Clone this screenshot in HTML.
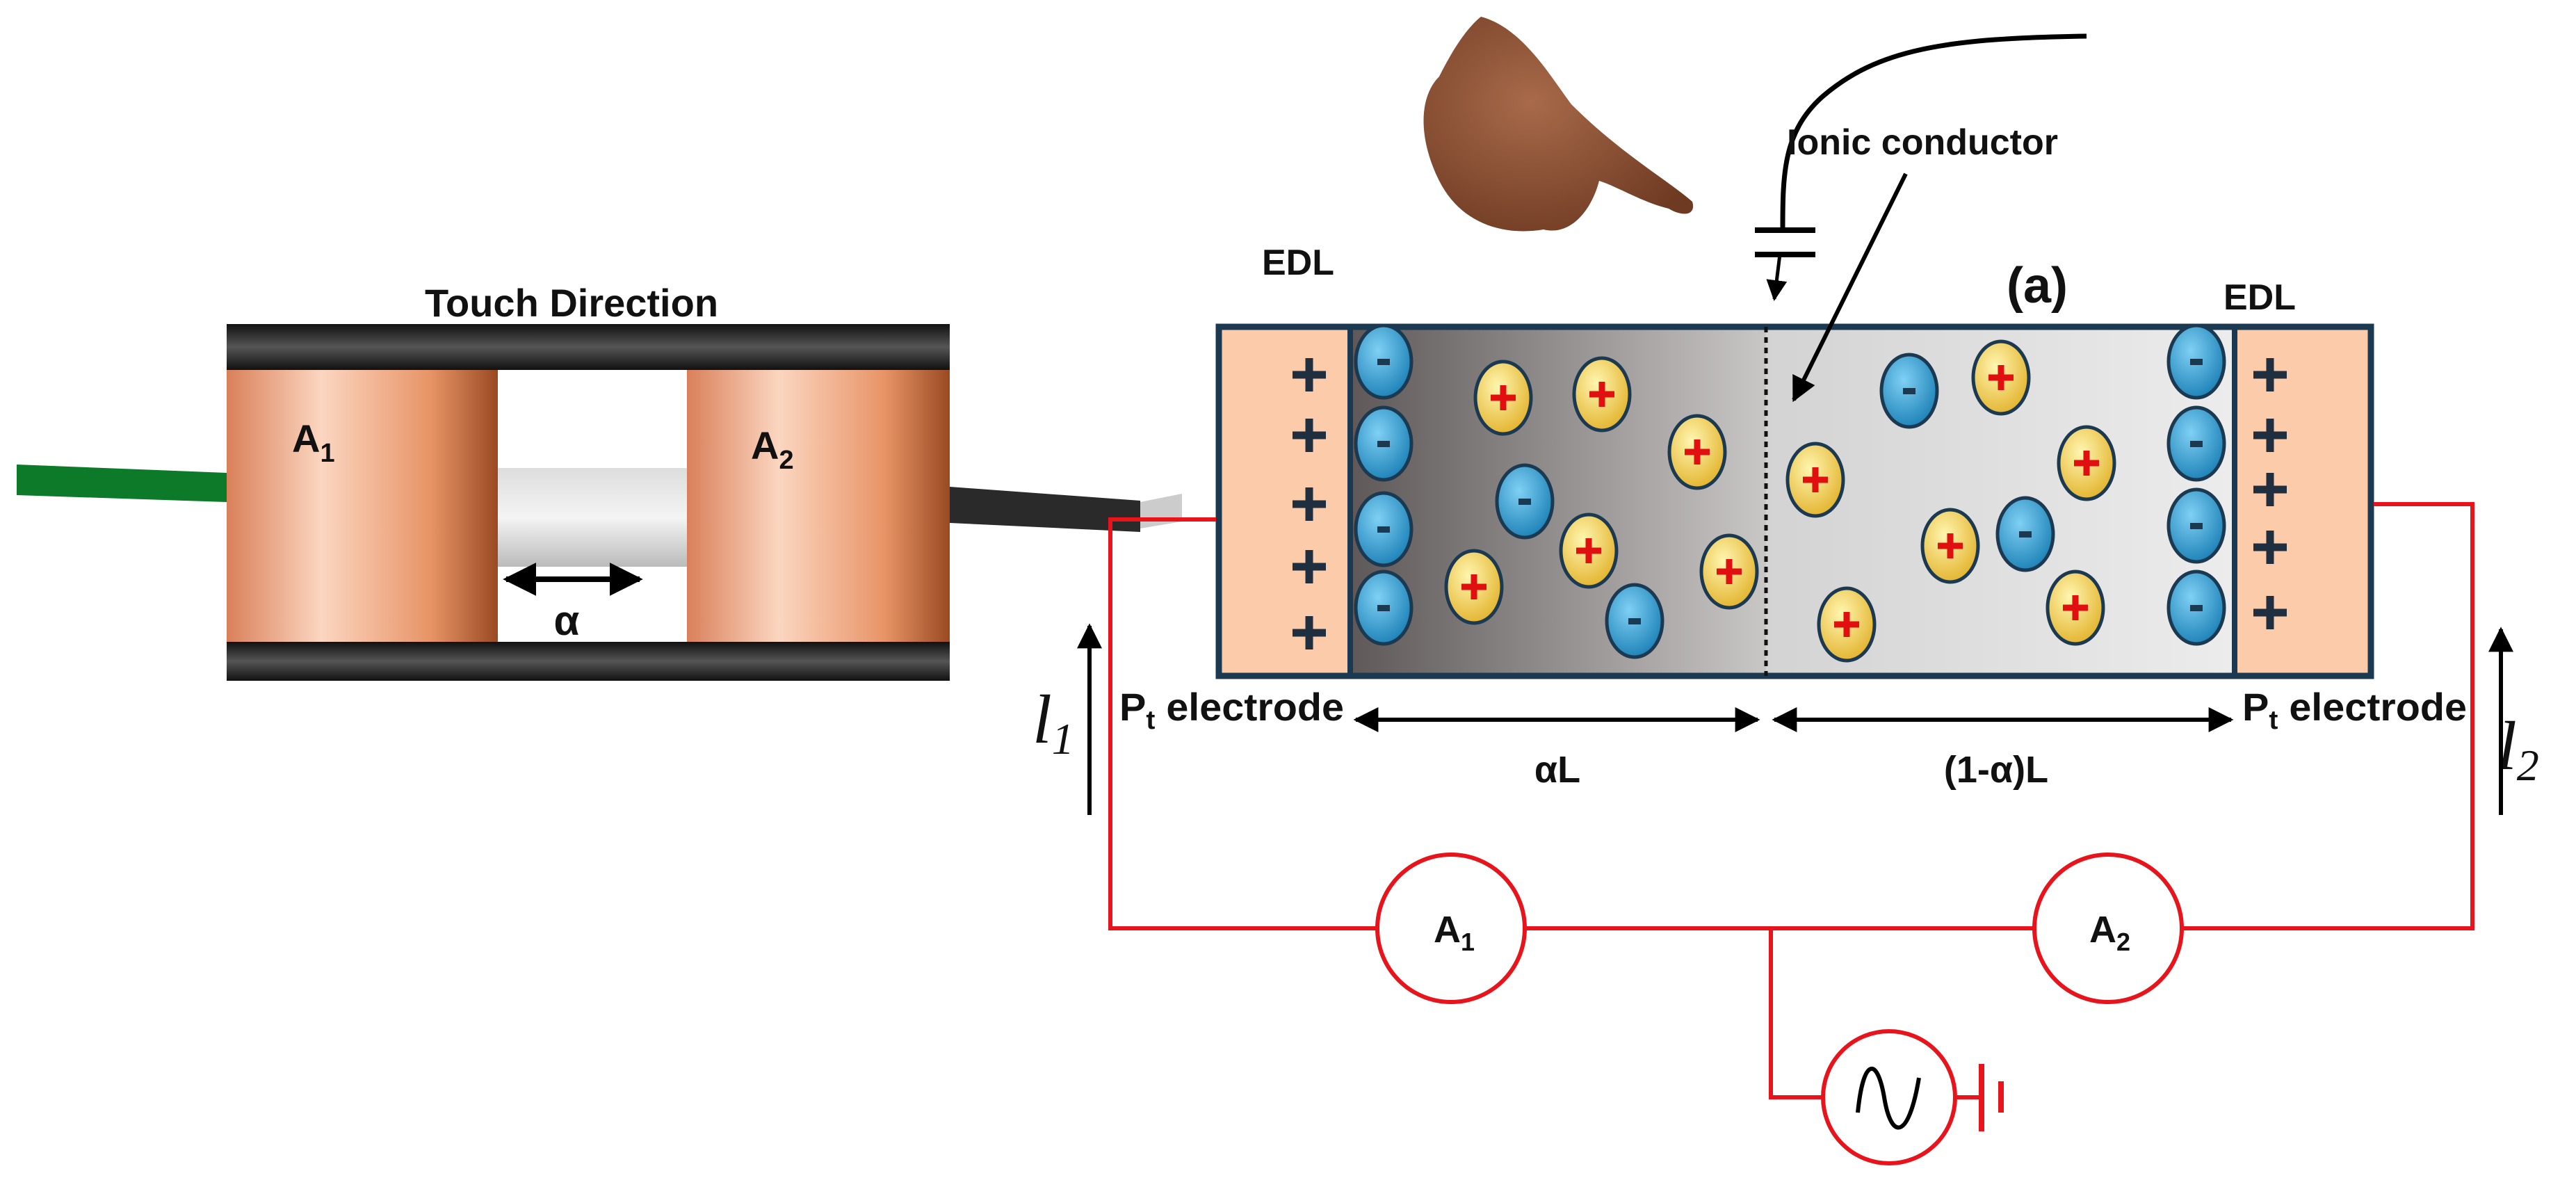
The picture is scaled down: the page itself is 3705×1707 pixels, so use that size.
<!DOCTYPE html>
<html><head><meta charset="utf-8"><style>
html,body{margin:0;padding:0;background:#fff}
svg{display:block}
text{font-family:"Liberation Sans",sans-serif;font-weight:bold;fill:#111}
</style></head><body>
<svg width="3705" height="1707" viewBox="0 0 3705 1707" xmlns="http://www.w3.org/2000/svg">
<defs>
<linearGradient id="cu" x1="0" x2="1">
<stop offset="0" stop-color="#d9805a"/><stop offset="0.35" stop-color="#fbd6c0"/><stop offset="0.75" stop-color="#e89467"/><stop offset="1" stop-color="#9a4a22"/></linearGradient>
<linearGradient id="bar" x1="0" y1="0" x2="0" y2="1">
<stop offset="0" stop-color="#111"/><stop offset="0.5" stop-color="#555"/><stop offset="1" stop-color="#111"/></linearGradient>
<linearGradient id="wire" x1="0" y1="0" x2="0" y2="1">
<stop offset="0" stop-color="#ddd"/><stop offset="0.5" stop-color="#f4f4f4"/><stop offset="1" stop-color="#bbb"/></linearGradient>
<linearGradient id="gl" x1="0" x2="1">
<stop offset="0" stop-color="#5e5858"/><stop offset="1" stop-color="#c9c6c6"/></linearGradient>
<linearGradient id="gr" x1="0" x2="1">
<stop offset="0" stop-color="#d3d3d3"/><stop offset="1" stop-color="#ececec"/></linearGradient>
<radialGradient id="pos" cx="0.4" cy="0.35" r="0.7"><stop offset="0" stop-color="#fff6b0"/><stop offset="1" stop-color="#e2b12a"/></radialGradient>
<radialGradient id="neg" cx="0.4" cy="0.35" r="0.7"><stop offset="0" stop-color="#7fd0f4"/><stop offset="1" stop-color="#1a7fb5"/></radialGradient>
<radialGradient id="skin" cx="0.4" cy="0.4" r="0.7"><stop offset="0" stop-color="#a86a4a"/><stop offset="1" stop-color="#6e3a22"/></radialGradient>
<g id="p"><ellipse rx="40" ry="52" fill="url(#pos)" stroke="#1b3a52" stroke-width="5"/><path d="M-18 0H18M0 -18V18" stroke="#e01010" stroke-width="9"/></g>
<g id="n"><ellipse rx="40" ry="52" fill="url(#neg)" stroke="#1b3a52" stroke-width="5"/><rect x="-9" y="-4" width="18" height="9" fill="#1b3a52"/></g>
<g id="pl"><path d="M-24 0H24M0 -24V24" stroke="#1f2f40" stroke-width="11"/></g>
<marker id="ah" viewBox="0 0 10 10" refX="9" refY="5" markerWidth="6" markerHeight="6" orient="auto-start-reverse"><path d="M0 0L10 5L0 10z" fill="#000"/></marker>
</defs>

<!-- left device -->
<text x="822" y="455" font-size="56" text-anchor="middle">Touch Direction</text>
<path d="M24 668 L326 680 L326 722 L24 712z" fill="#0d7a2a"/>
<rect x="716" y="673" width="272" height="142" fill="url(#wire)"/>
<rect x="326" y="466" width="1040" height="66" fill="url(#bar)"/>
<rect x="326" y="923" width="1040" height="56" fill="url(#bar)"/>
<rect x="326" y="532" width="390" height="391" fill="url(#cu)"/>
<rect x="988" y="532" width="378" height="391" fill="url(#cu)"/>
<path d="M1366 700 L1640 720 L1640 765 L1366 752z" fill="#2a2a2a"/>
<path d="M1640 722 L1700 710 L1700 750 L1640 760z" fill="#ccc"/>
<text x="420" y="650" font-size="56">A<tspan font-size="38" dy="14">1</tspan></text>
<text x="1080" y="660" font-size="56">A<tspan font-size="38" dy="14">2</tspan></text>
<line x1="728" y1="833" x2="920" y2="833" stroke="#000" stroke-width="8" marker-start="url(#ah)" marker-end="url(#ah)"/>
<text x="815" y="913" font-size="60" text-anchor="middle">α</text>

<!-- hand -->
<path d="M2130 24 C2190 40 2230 110 2260 150 C2330 220 2400 260 2434 290 C2440 310 2420 312 2400 300 C2360 290 2330 270 2300 260 C2290 300 2260 340 2220 330 C2160 340 2100 320 2070 260 C2040 200 2040 140 2070 110 C2090 70 2110 40 2130 24z" fill="url(#skin)"/>
<path d="M3001 52 C2800 55 2700 70 2620 140 C2565 190 2564 250 2564 331" fill="none" stroke="#000" stroke-width="7"/>
<line x1="2524" y1="331" x2="2611" y2="331" stroke="#000" stroke-width="8"/>
<line x1="2524" y1="366" x2="2611" y2="366" stroke="#000" stroke-width="8"/>
<line x1="2560" y1="366" x2="2552" y2="430" stroke="#000" stroke-width="5" marker-end="url(#ah)"/>
<text x="2570" y="222" font-size="52">Ionic conductor</text>
<text x="1867" y="395" font-size="52" text-anchor="middle">EDL</text>
<text x="3250" y="445" font-size="52" text-anchor="middle">EDL</text>
<text x="2930" y="435" font-size="72" text-anchor="middle">(a)</text>

<!-- main box -->
<rect x="1942" y="470" width="598" height="502" fill="url(#gl)"/>
<rect x="2540" y="470" width="674" height="502" fill="url(#gr)"/>
<rect x="1753" y="470" width="189" height="502" fill="#fccbaa"/>
<rect x="3214" y="470" width="196" height="502" fill="#fccbaa"/>
<line x1="1942" y1="470" x2="1942" y2="972" stroke="#1b3a52" stroke-width="8"/>
<line x1="3214" y1="470" x2="3214" y2="972" stroke="#1b3a52" stroke-width="8"/>
<rect x="1753" y="470" width="1657" height="502" fill="none" stroke="#1b3a52" stroke-width="9"/>
<line x1="2540" y1="470" x2="2540" y2="972" stroke="#111" stroke-width="5" stroke-dasharray="8,7"/>
<use href="#pl" x="1883" y="539"/><use href="#pl" x="1883" y="626"/><use href="#pl" x="1883" y="725"/><use href="#pl" x="1883" y="815"/><use href="#pl" x="1883" y="910"/>
<use href="#pl" x="3265" y="539"/><use href="#pl" x="3265" y="626"/><use href="#pl" x="3265" y="704"/><use href="#pl" x="3265" y="787"/><use href="#pl" x="3265" y="881"/>
<use href="#n" x="1990" y="520"/><use href="#n" x="1990" y="638"/><use href="#n" x="1990" y="761"/><use href="#n" x="1990" y="874"/>
<use href="#n" x="3159" y="520"/><use href="#n" x="3159" y="638"/><use href="#n" x="3159" y="756"/><use href="#n" x="3159" y="874"/>
<use href="#p" x="2162" y="572"/><use href="#p" x="2304" y="567"/><use href="#p" x="2441" y="650"/><use href="#p" x="2285" y="792"/><use href="#p" x="2120" y="844"/><use href="#p" x="2487" y="822"/>
<use href="#p" x="2611" y="690"/><use href="#p" x="2878" y="543"/><use href="#p" x="3001" y="666"/><use href="#p" x="2805" y="785"/><use href="#p" x="2985" y="874"/><use href="#p" x="2656" y="898"/>
<use href="#n" x="2193" y="721"/><use href="#n" x="2351" y="893"/><use href="#n" x="2746" y="562"/><use href="#n" x="2913" y="768"/>
<line x1="2741" y1="250" x2="2580" y2="575" stroke="#000" stroke-width="6" marker-end="url(#ah)"/>

<!-- labels below box -->
<text x="1610" y="1036" font-size="56" textLength="323" lengthAdjust="spacingAndGlyphs">P<tspan font-size="38" dy="12">t</tspan><tspan dy="-12"> electrode</tspan></text>
<text x="3225" y="1036" font-size="56" textLength="323" lengthAdjust="spacingAndGlyphs">P<tspan font-size="38" dy="12">t</tspan><tspan dy="-12"> electrode</tspan></text>
<line x1="1950" y1="1035" x2="2528" y2="1035" stroke="#000" stroke-width="6" marker-start="url(#ah)" marker-end="url(#ah)"/>
<line x1="2552" y1="1035" x2="3209" y2="1035" stroke="#000" stroke-width="6" marker-start="url(#ah)" marker-end="url(#ah)"/>
<text x="2240" y="1125" font-size="54" text-anchor="middle">αL</text>
<text x="2871" y="1125" font-size="54" text-anchor="middle">(1-α)L</text>
<text x="1485" y="1068" font-size="100" style="font-style:italic;font-weight:normal;font-family:'Liberation Serif',serif">l<tspan font-size="64" dy="16">1</tspan></text>
<text x="3592" y="1106" font-size="100" style="font-style:italic;font-weight:normal;font-family:'Liberation Serif',serif">l<tspan font-size="64" dy="16">2</tspan></text>
<line x1="1567" y1="1172" x2="1567" y2="900" stroke="#000" stroke-width="6" marker-end="url(#ah)"/>
<line x1="3597" y1="1172" x2="3597" y2="905" stroke="#000" stroke-width="6" marker-end="url(#ah)"/>

<!-- circuit -->
<g fill="none" stroke="#e8141c" stroke-width="6">
<polyline points="1749,747 1597,747 1597,1335 1981,1335"/>
<polyline points="2193,1335 2926,1335"/>
<polyline points="3138,1335 3556,1335 3556,725 3414,725"/>
<polyline points="2547,1335 2547,1578 2622,1578"/>
<circle cx="2087" cy="1335" r="106" fill="#fff"/>
<circle cx="3032" cy="1335" r="106" fill="#fff"/>
<circle cx="2717" cy="1578" r="95" fill="#fff"/>
<line x1="2812" y1="1578" x2="2850" y2="1578"/>
<line x1="2850" y1="1530" x2="2850" y2="1627" stroke-width="8"/>
<line x1="2878" y1="1555" x2="2878" y2="1600" stroke-width="8"/>
</g>
<path d="M2672 1600 C2680 1520 2700 1520 2710 1578 C2720 1640 2745 1640 2760 1550" fill="none" stroke="#000" stroke-width="6"/>
<text x="2062" y="1355" font-size="54">A<tspan font-size="36" dy="12">1</tspan></text>
<text x="3005" y="1355" font-size="54">A<tspan font-size="36" dy="12">2</tspan></text>
</svg>
</body></html>
